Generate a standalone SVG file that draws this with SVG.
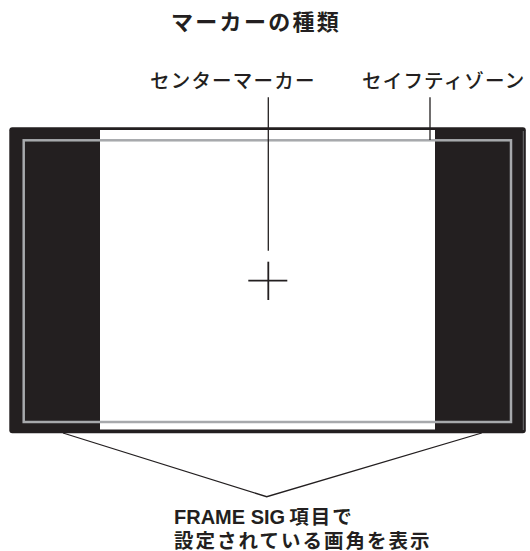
<svg xmlns="http://www.w3.org/2000/svg" width="530" height="551" viewBox="0 0 530 551">
<style>
.jp{font-family:"Noto Sans CJK JP","Noto Sans",sans-serif;fill:#231f20}
.lbl{font-size:19.5px;letter-spacing:1.2px;font-weight:500}
.ttl{font-size:22px;letter-spacing:2.3px;font-weight:700}
.btm{font-size:19.5px;font-weight:700;letter-spacing:2px}
.lat{font-family:"Liberation Sans",Arial,sans-serif;font-weight:700;letter-spacing:0}
.ln{stroke:#231f20;fill:none;stroke-width:1.3}
</style>
<rect width="530" height="551" fill="#ffffff"/>
<g id="title"><text class="jp ttl" x="171" y="30">マーカーの種類</text></g>
<g id="screen">
<rect x="9.3" y="127.3" width="516.5" height="306" rx="3" fill="#231f20"/>
<rect x="100" y="130" width="335" height="299.5" fill="#ffffff"/>
<line x1="523.3" y1="131" x2="523.3" y2="430" stroke="#6d6e71" stroke-width="1"/>
</g>
<g id="safety-zone"><rect x="23.7" y="140.3" width="487.3" height="281.7" fill="none" stroke="#a7a9ac" stroke-width="2.5"/></g>
<g id="center-marker">
<line x1="268.3" y1="261.7" x2="268.3" y2="300" stroke="#231f20" stroke-width="1.8"/>
<line x1="248.3" y1="280.7" x2="287.3" y2="280.7" stroke="#231f20" stroke-width="1.8"/>
</g>
<g id="label-center"><text class="jp lbl" x="150" y="88">センターマーカー</text></g>
<g id="label-safety"><text class="jp lbl" x="362" y="88">セイフティゾーン</text></g>
<g id="label-frame">
<text class="jp btm" x="174" y="523.5"><tspan class="lat" font-size="20px">FRAME SIG</tspan><tspan dx="4">項目で</tspan></text>
<text class="jp btm" x="174" y="548">設定されている画角を表示</text>
</g>
<g id="connectors">
<line class="ln" x1="268.3" y1="97.3" x2="268.3" y2="250.7"/>
<line class="ln" x1="430" y1="97.3" x2="430" y2="140"/>
<polyline class="ln" points="63,433 266.7,496.7 481.7,433"/>
</g>
</svg>
